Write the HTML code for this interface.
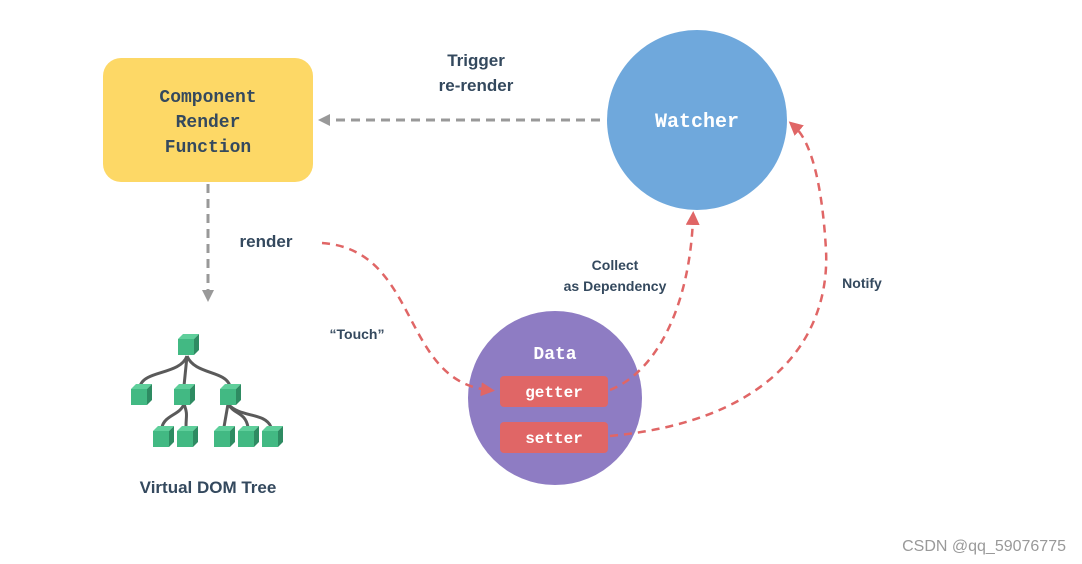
<!DOCTYPE html>
<html><head><style>body{margin:0;background:#fff}svg{display:block}</style></head><body>
<svg width="1082" height="564" viewBox="0 0 1082 564" xmlns="http://www.w3.org/2000/svg">
<defs>
<marker id="ag" markerWidth="12" markerHeight="12" refX="6" refY="6" orient="auto" markerUnits="userSpaceOnUse"><path d="M0,0 L12,6 L0,12 Z" fill="#999"/></marker>
<marker id="ar" markerWidth="14" markerHeight="14" refX="7" refY="7" orient="auto" markerUnits="userSpaceOnUse"><path d="M0,0 L14,7 L0,14 Z" fill="#e06666"/></marker>
<g id="cube"><rect x="0" y="5" width="16" height="16" fill="#42b983"/><path d="M0,5 L5,0 L21,0 L16,5 Z" fill="#5fcf9b"/><path d="M16,5 L21,0 L21,16 L16,21 Z" fill="#2e8b62"/></g>
</defs>
<rect x="103" y="58" width="210" height="124" rx="18" fill="#fdd866"/>
<g font-family="Liberation Mono, monospace" font-weight="bold" font-size="18" fill="#34495e" text-anchor="middle">
<text x="208" y="102">Component</text><text x="208" y="127">Render</text><text x="208" y="152">Function</text></g>
<circle cx="697" cy="120" r="90" fill="#6fa8dc"/>
<text x="697" y="127" font-family="Liberation Mono, monospace" font-weight="bold" font-size="20" fill="#fff" text-anchor="middle">Watcher</text>
<circle cx="555" cy="398" r="87" fill="#8e7cc3"/>
<text x="555" y="359" font-family="Liberation Mono, monospace" font-weight="bold" font-size="18" fill="#fff" text-anchor="middle">Data</text>
<rect x="500" y="376" width="108" height="31" rx="4" fill="#e06666"/>
<rect x="500" y="422" width="108" height="31" rx="4" fill="#e06666"/>
<g font-family="Liberation Mono, monospace" font-weight="bold" font-size="16" fill="#fff" text-anchor="middle">
<text x="554" y="397">getter</text><text x="554" y="443">setter</text></g>
<g stroke="#999" stroke-width="3" stroke-dasharray="9,6" fill="none">
<line x1="600" y1="120" x2="324" y2="120" marker-end="url(#ag)"/>
<line x1="208" y1="184" x2="208" y2="296" marker-end="url(#ag)"/></g>
<g stroke="#e06666" stroke-width="2.5" stroke-dasharray="8,6" fill="none">
<path d="M322,243 C420,250 400,380 488,390" marker-end="url(#ar)"/>
<path d="M610,390 C660,370 690,300 693,218" marker-end="url(#ar)"/>
<path d="M610,436 C780,420 830,330 826,250 C822,180 810,140 794,126" marker-end="url(#ar)"/></g>
<g font-family="Liberation Sans, sans-serif" font-weight="bold" fill="#34495e" text-anchor="middle">
<text x="476" y="66" font-size="17">Trigger</text><text x="476" y="91" font-size="17">re-render</text>
<text x="266" y="247" font-size="17">render</text>
<text x="357" y="339" font-size="14">“Touch”</text>
<text x="615" y="270" font-size="14">Collect</text><text x="615" y="291" font-size="14">as Dependency</text>
<text x="862" y="288" font-size="14">Notify</text>
<text x="208" y="493" font-size="17">Virtual DOM Tree</text></g>
<g stroke="#5a5a5a" stroke-width="3" fill="none">
<path d="M187,356 C180,375 145,370 140,386"/><path d="M187,356 L184,386"/><path d="M187,356 C195,375 225,370 230,386"/>
<path d="M184,404 C180,415 165,415 162,427"/><path d="M184,404 C188,415 186,415 186,427"/>
<path d="M228,404 L224,427"/><path d="M228,404 C235,415 245,412 248,427"/><path d="M228,404 C240,418 265,412 271,427"/></g>
<use href="#cube" x="178" y="334"/>
<use href="#cube" x="131" y="384"/><use href="#cube" x="174" y="384"/><use href="#cube" x="220" y="384"/>
<use href="#cube" x="153" y="426"/><use href="#cube" x="177" y="426"/><use href="#cube" x="214" y="426"/><use href="#cube" x="238" y="426"/><use href="#cube" x="262" y="426"/>
<text x="1066" y="551" font-family="Liberation Sans, sans-serif" font-size="16" fill="#999" text-anchor="end">CSDN @qq_59076775</text>
</svg>
</body></html>
